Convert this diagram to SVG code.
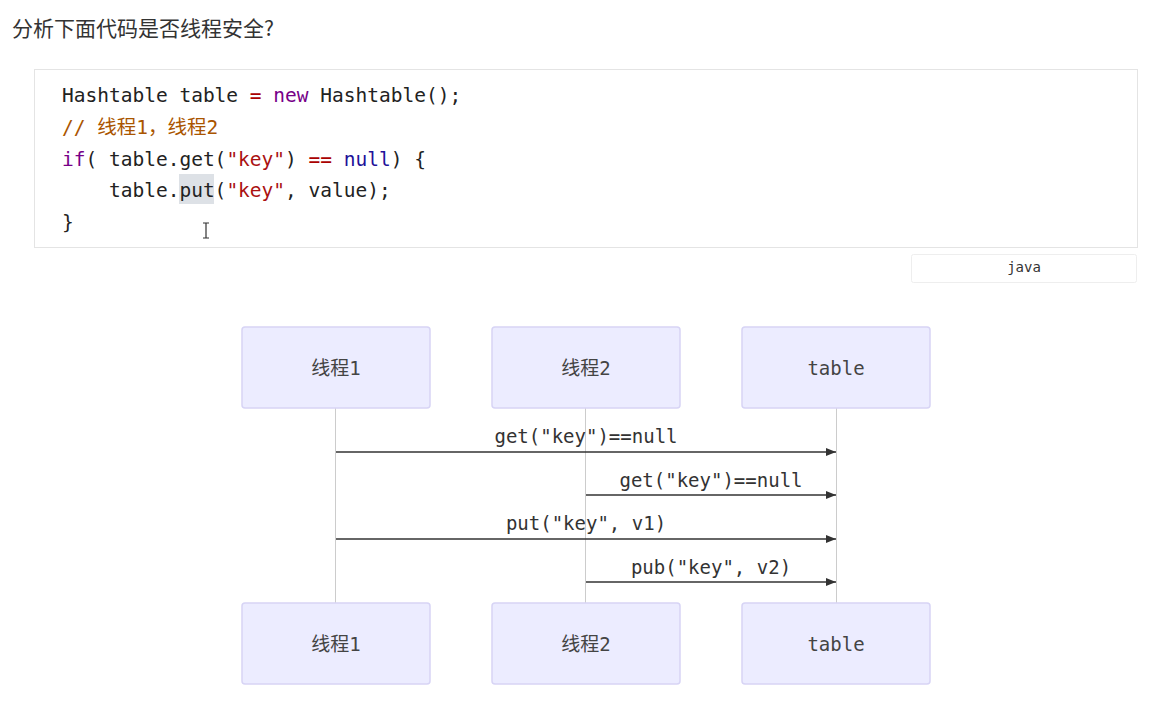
<svg xmlns="http://www.w3.org/2000/svg" width="1166" height="716" viewBox="0 0 1166 716">
<style>
.m{font-family:"DejaVu Sans Mono","Liberation Mono","Noto Sans CJK SC",monospace;font-size:19.5px;fill:#222;white-space:pre}
.cn{font-family:"Noto Sans CJK SC",sans-serif}
.box{fill:#ececff;stroke:#d7d4f5;stroke-width:1.5}
.lbl{font-family:"DejaVu Sans Mono","Noto Sans CJK SC",monospace;font-size:19px;fill:#444;text-anchor:middle}
.msg{font-family:"DejaVu Sans Mono",monospace;font-size:19px;fill:#333;text-anchor:middle}
.ln{stroke:#333;stroke-width:1.5;marker-end:url(#ah)}
.life{stroke:#ccc;stroke-width:1}
</style>
<defs><marker id="ah" markerWidth="10" markerHeight="8" refX="10" refY="4" orient="auto" markerUnits="userSpaceOnUse"><path d="M0,0L10,4L0,8z" fill="#333"/></marker></defs>
<rect width="1166" height="716" fill="#fff"/>
<text x="12" y="36" font-family="Noto Sans CJK SC,sans-serif" font-size="21" fill="#333">分析下面代码是否线程安全?</text>
<rect x="34.5" y="69.5" width="1103" height="178" fill="#fff" stroke="#e4e4e4"/>
<rect x="179" y="174" width="35" height="30" fill="#dde1e6"/>
<text class="m" x="62" y="102">Hashtable table <tspan fill="#a00">=</tspan> <tspan fill="#708">new</tspan> Hashtable();</text>
<text class="m" x="62" y="134" style="fill:#aa5500">// <tspan class="cn">线程</tspan>1，<tspan class="cn">线程</tspan>2</text>
<text class="m" x="62" y="166"><tspan fill="#708">if</tspan>( table.get(<tspan fill="#a11">"key"</tspan>) <tspan fill="#a00">==</tspan> <tspan fill="#219">null</tspan>) {</text>
<text class="m" x="62" y="197" xml:space="preserve">    table.put(<tspan fill="#a11">"key"</tspan>, value);</text>
<text class="m" x="62" y="229">}</text>
<path d="M206,223v15M203,223h6M203,238h6" stroke="#333" stroke-width="1.2" fill="none"/>
<rect x="911.5" y="254.5" width="225" height="28" rx="2" fill="#fff" stroke="#eee"/>
<text x="1024" y="272" text-anchor="middle" font-family="DejaVu Sans Mono,monospace" font-size="14" fill="#333">java</text>
<g id="lifelines">
<line class="life" x1="335.5" y1="408" x2="335.5" y2="603"/>
<line class="life" x1="585.5" y1="408" x2="585.5" y2="603"/>
<line class="life" x1="836.5" y1="408" x2="836.5" y2="603"/>
</g>
<g id="t1-top"><rect class="box" x="242" y="327" width="188" height="81" rx="3"/><text class="lbl" x="336" y="375">线程1</text></g>
<g id="t2-top"><rect class="box" x="492" y="327" width="188" height="81" rx="3"/><text class="lbl" x="586" y="375">线程2</text></g>
<g id="table-top"><rect class="box" x="742" y="327" width="188" height="81" rx="3"/><text class="lbl" x="836" y="375">table</text></g>
<g id="t1-bot"><rect class="box" x="242" y="603" width="188" height="81" rx="3"/><text class="lbl" x="336" y="651">线程1</text></g>
<g id="t2-bot"><rect class="box" x="492" y="603" width="188" height="81" rx="3"/><text class="lbl" x="586" y="651">线程2</text></g>
<g id="table-bot"><rect class="box" x="742" y="603" width="188" height="81" rx="3"/><text class="lbl" x="836" y="651">table</text></g>
<g id="connectors">
<line class="ln" x1="336" y1="452" x2="836" y2="452"/><text class="msg" x="586" y="443">get("key")==null</text>
<line class="ln" x1="586" y1="495" x2="836" y2="495"/><text class="msg" x="711" y="487">get("key")==null</text>
<line class="ln" x1="336" y1="539" x2="836" y2="539"/><text class="msg" x="586" y="530">put("key", v1)</text>
<line class="ln" x1="586" y1="582" x2="836" y2="582"/><text class="msg" x="711" y="574">pub("key", v2)</text>
</g>
</svg>
